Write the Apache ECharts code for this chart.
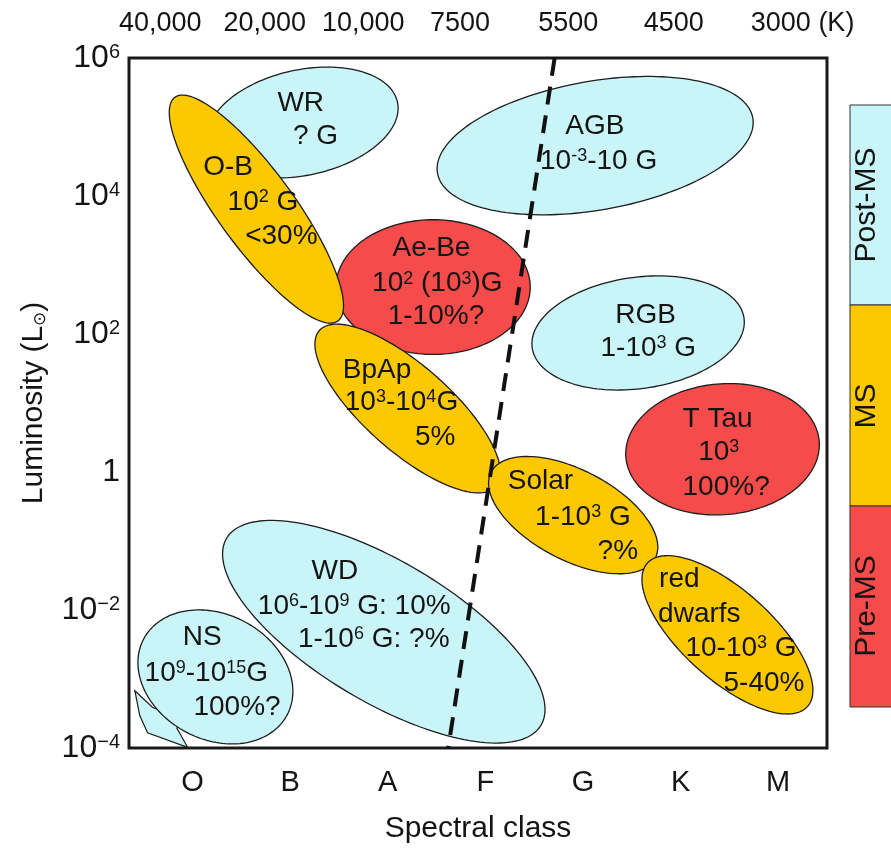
<!DOCTYPE html>
<html>
<head>
<meta charset="utf-8">
<script src="https://cdn.jsdelivr.net/npm/echarts@6/dist/echarts.min.js"></script>
<style>html,body{margin:0;padding:0;background:#fff}#c{width:891px;height:849px}</style>
</head>
<body>
<div id="c"></div>
<script>
// ---- data ----
const spectralClasses = ['O', 'B', 'A', 'F', 'G', 'K', 'M'];
const classPos = [0, 1, 2, 3, 4, 5, 6];
const tempLabels = ['40,000', '20,000', '10,000', '7500', '5500', '4500', '3000 (K)'];
const tempPos = [-0.33, 0.74, 1.75, 2.74, 3.85, 4.93, 6.25];
const logLumTicks = [-4, -2, 0, 2, 4, 6];

const stageNames = ['Post-MS', 'MS', 'Pre-MS'];

// regions (drawing order), major-axis end points [class, log10 L], half minor axis in class units
const regionNames = ['WR', 'AGB', 'RGB', 'T Tau', 'Ae-Be', 'O-B', 'BpAp', 'Solar', 'red dwarfs', 'WD', 'NS'];
const regionStage = ['Post-MS', 'Post-MS', 'Post-MS', 'Pre-MS', 'Pre-MS', 'MS', 'MS', 'MS', 'MS', 'Post-MS', 'Post-MS'];
const regionEndA = [[0.16, 4.77], [2.51, 4.33], [3.48, 1.80], [4.44, 0.21], [1.47, 2.68], [-0.18, 5.43], [1.30, 2.05], [3.06, 0.00], [4.66, -1.32], [0.35, -0.96], [-0.50, -2.42]];
const regionEndB = [[2.10, 5.36], [5.74, 5.13], [5.65, 2.23], [6.42, 0.45], [3.46, 2.68], [1.49, 2.19], [3.11, -0.21], [4.74, -1.25], [6.30, -3.40], [3.57, -3.67], [0.97, -3.52]];
const regionHalfWidth = [0.54, 0.66, 0.57, 0.67, 0.69, 0.39, 0.44, 0.46, 0.46, 0.72, 0.64];

// text lines inside regions: left anchor [class, log10 L]
const labelX = [0.87, 1.03, 3.82, 3.56, 0.11, 0.36, 0.54, 2.05, 1.84, 2.00, 1.54, 1.56, 2.28, 4.33, 4.18, 5.02, 5.18, 5.02, 3.23, 3.51, 4.15, 4.78, 4.77, 5.05, 5.44, 1.22, 0.67, 1.08, -0.10, -0.49, 0.01];
const labelY = [5.35, 4.86, 5.01, 4.50, 4.42, 3.91, 3.42, 3.24, 2.73, 2.26, 1.48, 1.01, 0.50, 2.27, 1.80, 0.76, 0.29, -0.22, -0.14, -0.65, -1.15, -1.55, -2.06, -2.55, -3.06, -1.44, -1.94, -2.42, -2.40, -2.91, -3.41];
const labelText = ['WR', '? G', 'AGB', '10{s|-3}-10 G', 'O-B', '10{s|2} G', '<30%', 'Ae-Be', '10{s|2} (10{s|3})G', '1-10%?', 'BpAp', '10{s|3}-10{s|4}G', '5%', 'RGB', '1-10{s|3} G', 'T Tau', '10{s|3}', '100%?', 'Solar', '1-10{s|3} G', '?%', 'red', 'dwarfs', '10-10{s|3} G', '5-40%', 'WD', '10{s|6}-10{s|9} G: 10%', '1-10{s|6} G: ?%', 'NS', '10{s|9}-10{s|15}G', '100%?'];

// boundary (dashed)
const boundaryX = [3.71, 2.62];
const boundaryY = [6, -4];

// NS arrow outline [class, log10 L]
const arrowX = [-0.59, -0.41, -0.08, -0.16, -0.05, -0.46, -0.54];
const arrowY = [-3.17, -3.41, -3.60, -3.71, -3.99, -3.78, -3.53];

// ---- styles ----
const FONT = "'Liberation Sans', Arial, sans-serif";
const TXT = '#141414';
const stageColors = { 'Post-MS': '#C9F5F8', 'MS': '#FCC800', 'Pre-MS': '#F54B4B' };

const chart = echarts.init(document.getElementById('c'));

function renderEllipse(params, api) {
  const p1 = api.coord([api.value(0), api.value(1)]);
  const p2 = api.coord([api.value(2), api.value(3)]);
  const unit = api.size([1, 0])[0];
  const cx = (p1[0] + p2[0]) / 2, cy = (p1[1] + p2[1]) / 2;
  const a = Math.hypot(p2[0] - p1[0], p2[1] - p1[1]) / 2;
  const b = api.value(4) * unit;
  const phi = Math.atan2(p2[1] - p1[1], p2[0] - p1[0]);
  const pts = [];
  for (let k = 0; k < 160; k++) {
    const t = k / 160 * Math.PI * 2;
    const ex = a * Math.cos(t), ey = b * Math.sin(t);
    pts.push([cx + ex * Math.cos(phi) - ey * Math.sin(phi), cy + ex * Math.sin(phi) + ey * Math.cos(phi)]);
  }
  const stage = stageNames[api.value(5)];
  return {
    type: 'polygon',
    shape: { points: pts },
    style: { fill: stageColors[stage], stroke: '#1d1d1d', lineWidth: 1.3 }
  };
}

function renderArrow(params, api) {
  const pts = arrowX.map((x, i) => api.coord([x, arrowY[i]]));
  return {
    type: 'polygon',
    shape: { points: pts },
    style: { fill: '#C9F5F8', stroke: '#1d1d1d', lineWidth: 1.2 }
  };
}

function renderLabel(params, api) {
  const p = api.coord([api.value(0), api.value(1)]);
  return {
    type: 'text',
    x: p[0], y: p[1],
    style: {
      text: labelText[params.dataIndex],
      fontSize: 28, fontFamily: FONT, fill: TXT,
      align: 'left', verticalAlign: 'middle',
      rich: { s: { fontSize: 18, fontFamily: FONT, fill: TXT, verticalAlign: 'top' } }
    }
  };
}

const option = {
  animation: false,
  textStyle: { fontFamily: FONT },
  grid: { left: 129, right: 64, top: 58, bottom: 96, show: true, borderColor: '#1a1a1a', borderWidth: 3 },
  xAxis: [
    {
      type: 'value', position: 'bottom', min: -0.65, max: 6.5,
      axisLine: { show: false }, axisTick: { show: false }, splitLine: { show: false },
      axisLabel: {
        customValues: classPos,
        formatter: v => spectralClasses[classPos.indexOf(v)],
        fontSize: 29, color: TXT, margin: 20, fontFamily: FONT
      },
      name: 'Spectral class', nameLocation: 'middle', nameGap: 66,
      nameTextStyle: { fontSize: 30, color: TXT, fontFamily: FONT }
    },
    {
      type: 'value', position: 'top', min: -0.65, max: 6.5,
      axisLine: { show: false }, axisTick: { show: false }, splitLine: { show: false },
      axisLabel: {
        customValues: tempPos,
        formatter: v => tempLabels[tempPos.indexOf(v)],
        fontSize: 27, color: TXT, margin: 21, fontFamily: FONT
      }
    }
  ],
  yAxis: {
    type: 'value', min: -4, max: 6, interval: 2,
    axisLine: { show: false }, axisTick: { show: false }, splitLine: { show: false },
    axisLabel: {
      fontSize: 32, color: TXT, margin: 9, fontFamily: FONT,
      formatter: v => v === 0 ? '1' : '10{sup|' + (v < 0 ? '\u2212' + (-v) : v) + '}',
      rich: { sup: { fontSize: 20, color: TXT, fontFamily: FONT, verticalAlign: 'top' } }
    },
    name: 'Luminosity (L{sub|\u2299})', nameLocation: 'middle', nameGap: 80, nameRotate: 90,
    nameTextStyle: {
      fontSize: 30, color: TXT, fontFamily: FONT,
      rich: { sub: { fontSize: 17, color: TXT, fontFamily: FONT, verticalAlign: 'bottom' } }
    }
  },
  graphic: [
    { type: 'rect', shape: { x: 850, y: 105, width: 60, height: 200 }, style: { fill: stageColors['Post-MS'], stroke: '#333', lineWidth: 1 } },
    { type: 'rect', shape: { x: 850, y: 305, width: 60, height: 201 }, style: { fill: stageColors['MS'], stroke: '#333', lineWidth: 1 } },
    { type: 'rect', shape: { x: 850, y: 506, width: 60, height: 201 }, style: { fill: stageColors['Pre-MS'], stroke: '#333', lineWidth: 1 } },
    { type: 'text', x: 867, y: 205, rotation: Math.PI / 2, style: { text: 'Post-MS', fontSize: 30, fontFamily: FONT, fill: TXT, align: 'center', verticalAlign: 'middle' } },
    { type: 'text', x: 867, y: 406, rotation: Math.PI / 2, style: { text: 'MS', fontSize: 30, fontFamily: FONT, fill: TXT, align: 'center', verticalAlign: 'middle' } },
    { type: 'text', x: 867, y: 606, rotation: Math.PI / 2, style: { text: 'Pre-MS', fontSize: 30, fontFamily: FONT, fill: TXT, align: 'center', verticalAlign: 'middle' } }
  ],
  series: [
    {
      type: 'custom', z: 2, silent: true,
      renderItem: renderArrow,
      data: [[arrowX[0], arrowY[0]]]
    },
    {
      type: 'custom', z: 3, silent: true,
      renderItem: renderEllipse,
      encode: { x: [0, 2], y: [1, 3] },
      data: regionNames.map((n, i) => [regionEndA[i][0], regionEndA[i][1], regionEndB[i][0], regionEndB[i][1], regionHalfWidth[i], stageNames.indexOf(regionStage[i])])
    },
    {
      type: 'line', z: 4, silent: true, showSymbol: false, symbol: 'none',
      data: boundaryX.map((x, i) => [x, boundaryY[i]]),
      lineStyle: { color: '#111', width: 4, type: [18, 11] }
    },
    {
      type: 'custom', z: 5, silent: true,
      renderItem: renderLabel,
      data: labelX.map((x, i) => [x, labelY[i]])
    }
  ]
};
chart.setOption(option);
</script>
</body>
</html>
